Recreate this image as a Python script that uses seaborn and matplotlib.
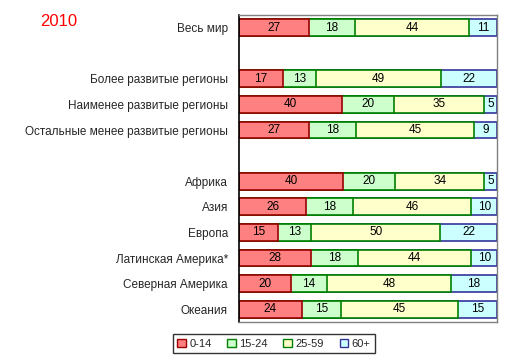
import numpy as np
import pandas as pd
import matplotlib
matplotlib.use("Agg")
import matplotlib.pyplot as plt
import seaborn as sns
from matplotlib.patches import Patch

# data
regions = ['Весь мир', 'Более развитые регионы', 'Наименее развитые регионы',
           'Остальные менее развитые регионы', 'Африка', 'Азия', 'Европа',
           'Латинская Америка*', 'Северная Америка', 'Океания']
order = ['Весь мир', ' ', 'Более развитые регионы', 'Наименее развитые регионы',
         'Остальные менее развитые регионы', '  ', 'Африка', 'Азия', 'Европа',
         'Латинская Америка*', 'Северная Америка', 'Океания']
groups = ['0-14', '15-24', '25-59', '60+']
age_0_14 = [27, 17, 40, 27, 40, 26, 15, 28, 20, 24]
age_15_24 = [18, 13, 20, 18, 20, 18, 13, 18, 14, 15]
age_25_59 = [44, 49, 35, 45, 34, 46, 50, 44, 48, 45]
age_60 = [11, 22, 5, 9, 5, 10, 22, 10, 18, 15]

fills = ['#FF8080', '#CCFFCC', '#FFFFCC', '#CCFFFF']
edges = ['#990000', '#008000', '#008000', '#333399']

df = pd.DataFrame({'region': regions, '0-14': age_0_14, '15-24': age_15_24,
                   '25-59': age_25_59, '60+': age_60})
# 100% stacked: normalise each row
totals = df[groups].sum(axis=1)
cum = df[groups].cumsum(axis=1).div(totals, axis=0) * 100
left = cum.shift(1, axis=1).fillna(0)

sns.set_style('white')
plt.rcParams['font.family'] = ['Liberation Sans', 'DejaVu Sans']

fig = plt.figure(figsize=(5.12, 3.63), dpi=100)
ax = fig.add_axes([0.467, 0.113, 0.504, 0.846])

# draw back to front so each segment shows
for i in reversed(range(len(groups))):
    g = groups[i]
    sns.barplot(x=cum[g], y=df['region'], order=order, orient='h',
                color=fills[i], edgecolor=edges[i], linewidth=1.2,
                width=0.66, saturation=1, ax=ax)

pos = {name: k for k, name in enumerate(order)}
for _, row in df.iterrows():
    idx = row.name
    for g in groups:
        mid = left.loc[idx, g] + (cum.loc[idx, g] - left.loc[idx, g]) / 2
        ax.text(mid, pos[row['region']], str(row[g]), ha='center', va='center',
                fontsize=8.5, color='black')

ax.set_xlim(0, 100)
ax.set_ylim(len(order) - 0.5, -0.5)
ax.set_xticks([])
ax.set_xlabel('')
ax.set_ylabel('')
ax.tick_params(axis='y', labelsize=8.5, length=0, pad=8)
for s in ['top', 'right', 'bottom']:
    ax.spines[s].set_color('#808080')
    ax.spines[s].set_linewidth(1)
ax.spines['left'].set_color('black')
ax.spines['left'].set_linewidth(1.2)

fig.text(0.078, 0.94, '2010', color='red', fontsize=12, ha='left', va='center')

handles = [Patch(facecolor=fills[i], edgecolor=edges[i], label=groups[i]) for i in range(4)]
leg = fig.legend(handles=handles, loc='center', bbox_to_anchor=(0.535, 0.053), ncol=4,
                 fontsize=8, frameon=True, fancybox=False, handlelength=0.8,
                 handleheight=0.8, handletextpad=0.3, columnspacing=1.4,
                 borderpad=0.4)
leg.get_frame().set_edgecolor('black')
leg.get_frame().set_linewidth(1)

fig.savefig('out.png', dpi=100)
